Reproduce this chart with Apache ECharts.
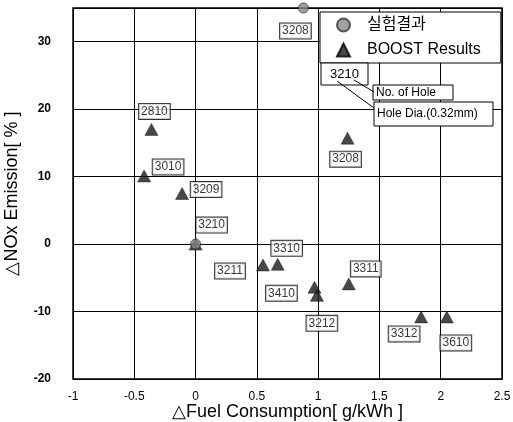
<!DOCTYPE html>
<html><head><meta charset="utf-8">
<script src="https://cdn.jsdelivr.net/npm/echarts@6/dist/echarts.min.js"></script>
<style>html,body{margin:0;padding:0;background:#fff}#c{width:513px;height:422px}</style>
</head><body><div id="c"></div>
<script>
// ---- data ----
const expNames = ['3210', '3208'];
const expX = [0, 0.88];
const expY = [0, 35];

const boostNames = ['2810','3010','3209','3210','3211','3310','3410','3212','3311','3312','3610','3208'];
const boostX = [-0.36, -0.42, -0.11, 0, 0.55, 0.67, 0.97, 0.99, 1.25, 1.84, 2.05, 1.24];
const boostY = [17, 10.1, 7.5, 0, -3.1, -3, -6.4, -7.6, -5.9, -10.8, -10.8, 15.7];

const xTicks = [-1, -0.5, 0, 0.5, 1, 1.5, 2, 2.5];
const yTicks = [-20, -10, 0, 10, 20, 30];

// ---- label layout (styles) ----
const expLabelOffsets = [null, [-8, 23]];
const boostLabelOffsets = [[3,-18],[24,-9],[24,-4],[16,-19],[-33,6],[9,-16],[-33,6],[5,28],[17,-15],[-17,17],[9,26],[-2,21]];

const font = '"Liberation Sans", Arial, sans-serif';
const boxLabel = {
  show: true, position: 'inside', color: '#000', fontFamily: font, fontSize: 12,
  backgroundColor: '#fff', borderColor: '#000', borderWidth: 1, padding: [2, 2, 1, 2]
};

function build(names, xs, ys, offs) {
  return names.map((n, i) => {
    const d = { name: n, value: [xs[i], ys[i]] };
    d.label = offs[i] ? Object.assign({}, boxLabel, { offset: offs[i], formatter: n }) : { show: false };
    return d;
  });
}

const chart = echarts.init(document.getElementById('c'), null, { renderer: 'canvas' });
chart.setOption({
  animation: false,
  backgroundColor: '#fff',
  grid: { left: 73, right: 11, top: 8, bottom: 43, show: true, borderColor: '#000', borderWidth: 1.5,
    containLabel: false, outerBoundsMode: 'none' },
  xAxis: {
    type: 'value', min: xTicks[0], max: xTicks[xTicks.length - 1], interval: 0.5,
    name: '△Fuel Consumption[ g/kWh ]', nameLocation: 'middle', nameGap: 33, nameMoveOverlap: false,
    nameTextStyle: { fontFamily: font, fontSize: 18, color: '#000', verticalAlign: 'middle' },
    axisLine: { show: false }, axisTick: { show: false },
    axisLabel: { color: '#000', fontFamily: font, fontSize: 12, margin: 12 },
    splitLine: { show: true, lineStyle: { color: '#000', width: 1 } }
  },
  yAxis: {
    type: 'value', min: yTicks[0], max: 35, interval: 10,
    name: '△NOx Emission[ % ]', nameLocation: 'middle', nameGap: 61, nameRotate: 90, nameMoveOverlap: false,
    nameTextStyle: { fontFamily: font, fontSize: 18, color: '#000', verticalAlign: 'middle' },
    axisLine: { show: false }, axisTick: { show: false },
    axisLabel: { color: '#000', fontFamily: font, fontSize: 12, fontWeight: 'bold', margin: 22, showMaxLabel: false,
      formatter: v => yTicks.includes(v) ? String(v) : '' },
    splitLine: { show: true, lineStyle: { color: '#000', width: 1 } }
  },
  legend: {
    orient: 'vertical', left: 320, top: 12,
    backgroundColor: '#fff', borderColor: '#000', borderWidth: 1,
    padding: [5, 20, 5, 16], itemGap: 9, itemWidth: 13, itemHeight: 13,
    textStyle: { fontFamily: '"Liberation Sans", "Noto Sans CJK KR", sans-serif', fontSize: 16, color: '#000', padding: [0, 0, 0, 12] },
    data: [
      { name: '실험결과', icon: 'circle' },
      { name: 'BOOST Results', icon: 'triangle' }
    ]
  },
  series: [
    {
      name: 'BOOST Results', type: 'scatter', symbol: 'triangle', symbolSize: [13, 12], clip: false, z: 3,
      itemStyle: { color: '#1a1a1a', borderColor: '#000', borderWidth: 0.5 },
      data: build(boostNames, boostX, boostY, boostLabelOffsets)
    },
    {
      name: '실험결과', type: 'scatter', symbol: 'circle', symbolSize: 10, clip: false, z: 4,
      itemStyle: { color: '#8a8a8a', borderColor: '#333', borderWidth: 1 },
      data: build(expNames, expX, expY, expLabelOffsets)
    }
  ],
  graphic: [
    { type: 'rect', shape: { x: 321, y: 63, width: 47, height: 22 }, style: { fill: '#fff', stroke: '#000', lineWidth: 1 }, z: 10 },
    { type: 'text', x: 344.5, y: 74, style: { text: '3210', fontFamily: font, fontSize: 13, fill: '#000', align: 'center', verticalAlign: 'middle' }, z: 11 },
    { type: 'line', shape: { x1: 337, y1: 81, x2: 374, y2: 108 }, style: { stroke: '#000', lineWidth: 1 }, z: 11 },
    { type: 'line', shape: { x1: 354, y1: 80, x2: 374, y2: 92 }, style: { stroke: '#000', lineWidth: 1 }, z: 11 },
    { type: 'rect', shape: { x: 373, y: 85, width: 80, height: 15 }, style: { fill: '#fff', stroke: '#000', lineWidth: 1 }, z: 10 },
    { type: 'text', x: 376, y: 93, style: { text: 'No. of Hole', fontFamily: font, fontSize: 12, fill: '#000', verticalAlign: 'middle' }, z: 11 },
    { type: 'rect', shape: { x: 374, y: 102, width: 119, height: 24 }, style: { fill: '#fff', stroke: '#000', lineWidth: 1 }, z: 10 },
    { type: 'text', x: 377, y: 114, style: { text: 'Hole Dia.(0.32mm)', fontFamily: font, fontSize: 12, fill: '#000', verticalAlign: 'middle' }, z: 11 }
  ]
});
</script>
</body></html>
